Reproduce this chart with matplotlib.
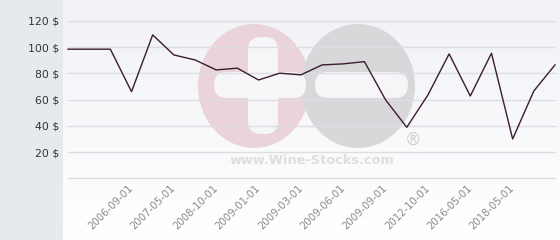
import numpy as np
import matplotlib.pyplot as plt
from matplotlib.patches import Rectangle, Ellipse, FancyBboxPatch
from matplotlib.colors import LinearSegmentedColormap

# prices, one point per record
prices = [98.5, 98.5, 98.5, 66.1, 109.4, 94.1, 90.3, 82.7, 84.0, 75.0, 80.2, 78.9,
          86.5, 87.3, 89.0, 59.8, 38.9, 63.6, 94.9, 62.8, 95.4, 30.0, 66.6, 86.5]
label_pos = [3, 5, 7, 9, 11, 13, 15, 17, 19, 21]
labels = ['2006-09-01', '2007-05-01', '2008-10-01', '2009-01-01', '2009-03-01',
          '2009-06-01', '2009-09-01', '2012-10-01', '2016-05-01', '2018-05-01']
yticks = [0, 20, 40, 60, 80, 100, 120]

W, H = 560, 240
fig = plt.figure(figsize=(W/100, H/100), dpi=100)

# background layer in pixel coordinates
bg = fig.add_axes([0, 0, 1, 1])
bg.set_xlim(0, W)
bg.set_ylim(H, 0)
bg.axis('off')
bg.add_patch(Rectangle((0, 0), 63, H, color='#e6eaee', lw=0))
grad = np.linspace(0, 1, 100)[:, None]
cmap = LinearSegmentedColormap.from_list('g', ['#f1f2f7', '#ffffff'])
bg.imshow(grad, cmap=cmap, extent=(63, W, H, 0), aspect='auto', zorder=0)

# watermark
bg.add_patch(Ellipse((254, 86), 112, 124, color='#ead3d9', lw=0, zorder=1))
bg.add_patch(Ellipse((358, 86), 114, 124, color='#d8d8da', lw=0, zorder=1))
for (x0, y0, w, h) in [(214, 72, 92, 26), (248, 37, 30, 97), (315, 72, 93, 26)]:
    bg.add_patch(FancyBboxPatch((x0 + 13, y0 + 13), w - 26, h - 26,
                                boxstyle='round,pad=13', color='#f6f6f9', lw=0, zorder=2))
bg.text(413, 140, '®', color='#d0d0d2', fontsize=12, ha='center', va='center', zorder=2)
bg.text(312, 160, 'www.Wine-Stocks.com', color='#dedede', fontsize=9.3,
        fontweight='bold', ha='center', va='center', zorder=2)

# main chart
ax = fig.add_axes([68/W, (H-178.3)/H, (555-68)/W, (178.3-21)/H])
ax.patch.set_alpha(0)
ax.plot(range(len(prices)), prices, color='#3b1c2c', lw=1.0, clip_on=False, zorder=3)
ax.set_xlim(0, len(prices) - 1)
ax.set_ylim(0, 120)
ax.set_yticks(yticks)
ax.set_yticklabels([''] + [f'{v} $' for v in yticks[1:]])
ax.set_xticks(label_pos)
ax.set_xticklabels(labels, rotation=45, ha='right', va='center', rotation_mode='anchor')
ax.grid(axis='y', color='#dedee2', lw=1, clip_on=False)
ax.tick_params(length=0)
ax.tick_params(axis='y', pad=6.5, labelsize=7.8, labelcolor='#333333')
ax.tick_params(axis='x', pad=6, labelsize=7.3, labelcolor='#8a8a8a')
for s in ax.spines.values():
    s.set_visible(False)

fig.savefig('out.png', dpi=100)
